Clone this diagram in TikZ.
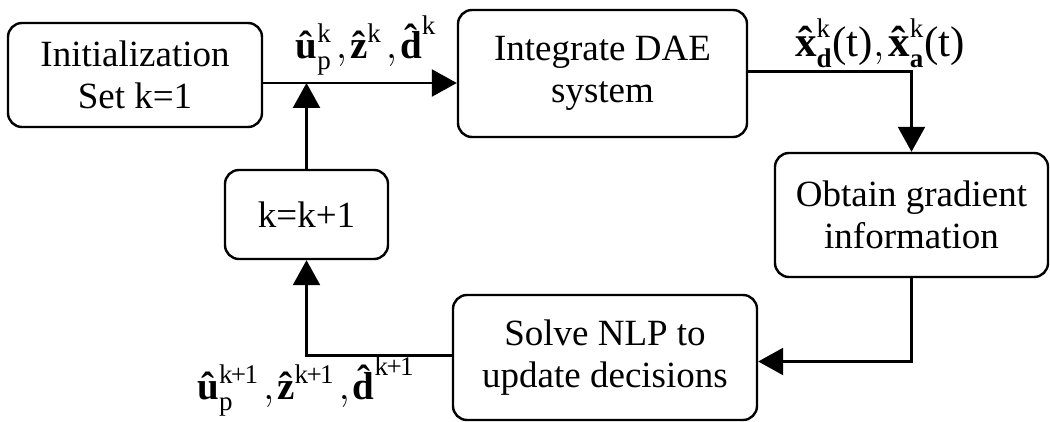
\documentclass[tikz,border=0pt]{standalone}
\usepackage{fontspec}
\usepackage{amsmath}
\setmainfont{Liberation Serif}
\usetikzlibrary{arrows.meta}
\newcommand{\bhat}[1]{\text{\textbf{\accent"02C6 #1}}}
\newcommand{\idx}[1]{\text{\fontsize{13.5}{15}\selectfont #1}}
\newcommand{\sep}{\kern2pt{,}\kern1.5pt}
\newcommand{\kk}{k\kern-.8pt+\kern-.8pt1}

\begin{document}
\begin{tikzpicture}[
  x=0.5pt, y=-0.5pt,
  font=\fontsize{18.5}{21}\selectfont,
  stage/.style={draw, line width=1.2pt, rounded corners=7pt, align=center, inner sep=0pt},
  arr/.style={-{Triangle[length=12.5pt,width=13.5pt]}, line width=1.2pt},
  lbl/.style={inner sep=0pt, anchor=base, font=\fontsize{19.5}{22}\selectfont}
]
\useasboundingbox (0,0) rectangle (1050,422);
\node[stage, minimum width=127pt, minimum height=52pt] (init) at (135,75) {Initialization\\Set k=1};
\node[stage, minimum width=144.5pt, minimum height=63.5pt] (dae) at (602.5,73.5) {Integrate DAE\\system};
\node[stage, minimum width=136.5pt, minimum height=62pt] (grad) at (911.5,215) {Obtain gradient\\information};
\node[stage, minimum width=152pt, minimum height=62.5pt] (nlp) at (605,357.5) {Solve NLP to\\update decisions};
\node[stage, minimum width=81.5pt, minimum height=44.5pt] (incr) at (306.5,214.5) {k=k+1};
\coordinate (join) at (306.5,83);
% main loop
\draw[arr] (init.east |- join) -- (dae.west |- join);
\draw[arr] ([yshift=1pt]dae.east) -| (grad.north);
\draw[arr] (grad.south) |- ([yshift=-2pt]nlp.east);
\draw[arr] ([yshift=1pt]nlp.west) -| (incr.south);
\draw[arr] (incr.north) -- (join);
% labels
\node[lbl] (lbltop) at (366,59) {$\bhat{u}_{\idx{p}}^{\idx{k}}\sep\bhat{z}^{\idx{k}}\sep\bhat{d}^{\idx{k}}$};
\node[lbl, font=\fontsize{21.5}{24}\selectfont] (lblstate) at (880,57) {$\bhat{x}_{\idx{\bfseries d}}^{\idx{k}}\text{(t)}{,}\kern2pt\bhat{x}_{\idx{\bfseries a}}^{\idx{k}}\text{(t)}$};
\node[lbl] (lblnext) at (306,400) {$\bhat{u}_{\idx{p}}^{\idx{\kk}}\sep\bhat{z}^{\idx{\kk}}\sep\bhat{d}^{\idx{\kk}}$};
\end{tikzpicture}
\end{document}
